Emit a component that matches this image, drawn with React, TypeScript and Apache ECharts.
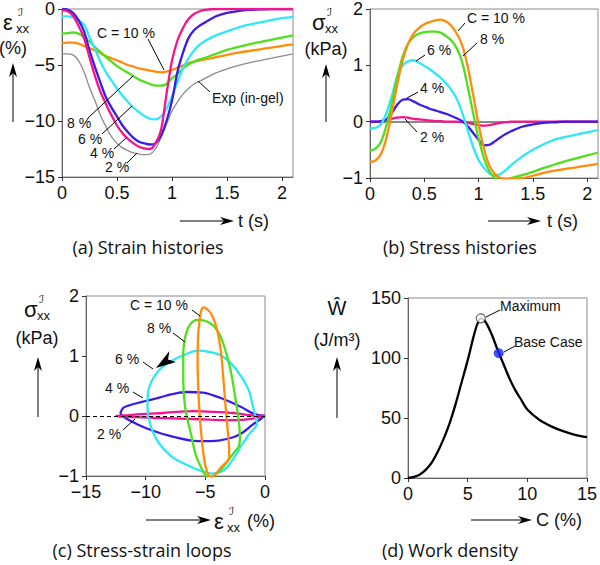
import React, { useEffect, useRef } from "react";
import * as echarts from "echarts";

// ---------- data ----------
const timeS = [0, 0.05, 0.1, 0.15, 0.2, 0.25, 0.3, 0.35, 0.4, 0.45, 0.5, 0.55, 0.6, 0.65, 0.7, 0.75, 0.8, 0.85, 0.9, 0.95, 1.0, 1.05, 1.1, 1.15, 1.2, 1.25, 1.3, 1.4, 1.5, 1.6, 1.7, 1.8, 1.9, 2.0, 2.1];

// strain histories (%)
const strain2 = [-0.1, -0.2, -0.6, -1.5, -2.6, -4.3, -6.0, -7.4, -8.5, -9.5, -10.4, -11.1, -11.6, -12.0, -12.3, -12.45, -12.5, -12.0, -10.8, -7.6, -4.6, -2.8, -1.7, -0.9, -0.45, -0.2, -0.08, 0, 0, 0, 0, 0, 0, 0, 0];
const strain4 = [0, -0.05, -0.35, -1.0, -2.0, -3.7, -5.2, -6.6, -7.9, -8.8, -9.6, -10.4, -11.0, -11.5, -11.85, -12.0, -12.1, -12.0, -11.3, -10.0, -8.2, -5.6, -3.9, -2.6, -1.9, -1.5, -1.2, -0.65, -0.35, -0.18, -0.08, -0.03, 0, 0, 0];
const strain6 = [-0.65, -0.65, -0.75, -1.0, -1.4, -2.5, -3.6, -4.7, -5.65, -6.4, -7.1, -7.75, -8.3, -8.8, -9.2, -9.55, -9.8, -9.85, -9.6, -8.9, -7.8, -6.5, -5.3, -4.4, -3.7, -3.2, -2.85, -2.35, -2.0, -1.65, -1.4, -1.2, -1.0, -0.82, -0.7];
const strain8 = [-2.2, -2.15, -2.1, -2.2, -2.5, -2.9, -3.4, -3.85, -4.3, -4.7, -5.1, -5.4, -5.7, -6.0, -6.3, -6.5, -6.7, -6.85, -6.85, -6.7, -6.2, -5.8, -5.3, -4.95, -4.7, -4.5, -4.35, -4.0, -3.65, -3.4, -3.15, -2.95, -2.75, -2.55, -2.35];
const strain10 = [-3.05, -3.0, -3.0, -3.1, -3.3, -3.5, -3.7, -3.95, -4.2, -4.4, -4.6, -4.8, -5.0, -5.15, -5.3, -5.4, -5.5, -5.6, -5.65, -5.6, -5.45, -5.25, -5.05, -4.85, -4.7, -4.6, -4.5, -4.3, -4.1, -3.9, -3.75, -3.6, -3.45, -3.3, -3.15];
const strainExp = [-4.0, -4.0, -4.1, -4.6, -5.6, -7.0, -8.2, -9.5, -10.5, -11.4, -12.0, -12.4, -12.65, -12.85, -12.95, -13.0, -12.95, -12.5, -11.5, -10.3, -9.1, -8.3, -7.6, -7.1, -6.7, -6.45, -6.2, -5.7, -5.35, -5.05, -4.8, -4.6, -4.4, -4.2, -4.0];

// stress histories (kPa)
const stress2 = [0, 0, 0, 0.02, 0.05, 0.07, 0.08, 0.07, 0.05, 0.04, 0.03, 0.02, 0.01, 0.01, 0, 0, 0, -0.01, -0.02, -0.04, -0.06, -0.07, -0.06, -0.04, -0.02, -0.01, 0, 0, 0, 0, 0, 0, 0, 0, 0];
const stress4 = [0, 0, 0.01, 0.04, 0.15, 0.3, 0.39, 0.4, 0.36, 0.31, 0.27, 0.23, 0.2, 0.17, 0.14, 0.1, 0.06, 0.01, -0.08, -0.2, -0.32, -0.42, -0.41, -0.35, -0.28, -0.22, -0.17, -0.09, -0.05, -0.02, -0.01, 0, 0, 0, 0];
const stress6 = [-0.12, -0.11, -0.05, 0.15, 0.45, 0.8, 1.0, 1.07, 1.09, 1.05, 0.99, 0.93, 0.86, 0.78, 0.68, 0.56, 0.4, 0.15, -0.15, -0.45, -0.68, -0.82, -0.92, -0.96, -0.93, -0.86, -0.77, -0.62, -0.5, -0.4, -0.32, -0.27, -0.23, -0.19, -0.15];
const stress8 = [-0.52, -0.48, -0.36, -0.08, 0.32, 0.78, 1.15, 1.38, 1.5, 1.56, 1.59, 1.6, 1.6, 1.58, 1.52, 1.44, 1.3, 1.05, 0.62, 0.15, -0.3, -0.65, -0.88, -1.0, -1.05, -1.04, -1.0, -0.95, -0.89, -0.82, -0.76, -0.7, -0.65, -0.6, -0.55];
const stress10 = [-0.72, -0.69, -0.58, -0.3, 0.15, 0.65, 1.08, 1.38, 1.56, 1.66, 1.73, 1.77, 1.8, 1.81, 1.78, 1.7, 1.56, 1.35, 0.98, 0.48, -0.05, -0.48, -0.78, -0.93, -1.0, -1.02, -1.02, -1.0, -0.96, -0.91, -0.87, -0.84, -0.81, -0.78, -0.75];

// work density
const concC = [0, 0.5, 1, 1.5, 2, 2.5, 3, 3.5, 4, 4.5, 5, 5.5, 5.8, 6.1, 6.5, 7, 7.5, 8, 8.5, 9, 9.5, 10, 11, 12, 13, 14, 15];
const workW = [0, 1, 3, 7, 13, 22, 33, 46, 62, 80, 98, 118, 128, 133, 130, 120, 107, 95, 83, 73, 65, 57, 48.5, 43, 39, 36, 34];
const maxPoint = [6.1, 133];
const basePoint = [7.6, 104];

const tTicks = [0, 0.5, 1, 1.5, 2];

// ---------- styling ----------
const SANS = "'Liberation Sans', Arial, Helvetica, sans-serif";
const CAP = "'Open Sans', 'DejaVu Sans', sans-serif";
const COL = { c2: "#f5148c", c4: "#3a1ce8", c6: "#2ee8f8", c8: "#4ee01e", c10: "#ff8c0a", exp: "#8c8c8c" };

const minus = (v: number) => String(v).replace("-", "\u2212");

function axisBase(extra: any) {
  return {
    type: "value",
    axisLine: { show: true, onZero: false, lineStyle: { color: "#666", width: 1 } },
    axisTick: { show: true, inside: false, length: 4, lineStyle: { color: "#333", width: 1 } },
    axisLabel: { fontSize: 18, color: "#111", fontFamily: SANS, formatter: minus },
    splitLine: { show: false },
    ...extra,
  };
}

const txt = (text: string, x: number, y: number, fontSize = 14, align = "left", family = SANS) => ({
  type: "text",
  silent: true,
  z: 100,
  style: { text, x, y, fontSize, fontFamily: family, fill: "#111", align, textAlign: align, verticalAlign: "middle", textVerticalAlign: "middle" },
});
const seg = (x1: number, y1: number, x2: number, y2: number, w = 1) => ({
  type: "line",
  silent: true,
  z: 100,
  shape: { x1, y1, x2, y2 },
  style: { stroke: "#000", lineWidth: w },
});
const poly = (points: number[][]) => ({ type: "polygon", silent: true, z: 100, shape: { points }, style: { fill: "#000" } });
const arrowRight = (x1: number, x2: number, y: number) => [
  seg(x1, y, x2 - 8, y),
  poly([[x2, y], [x2 - 14, y - 4], [x2 - 10, y], [x2 - 14, y + 4]]),
];
const arrowUp = (x: number, y1: number, y2: number) => [
  seg(x, y1, x, y2 + 8),
  poly([[x, y2], [x - 4, y2 + 14], [x, y2 + 10], [x + 4, y2 + 14]]),
];
// epsilon / sigma with superscript script-I and subscript xx
const symbolXX = (sym: string, x: number, y: number) => [
  txt(sym, x, y, 22, "left", SANS),
  txt("\u2110", x + 15, y - 10, 11, "left", "'DejaVu Sans', sans-serif"),
  txt("xx", x + 13, y + 6, 13, "left", SANS),
];

export default function App() {
  const ref = useRef<HTMLDivElement>(null);
  useEffect(() => {
    if (!ref.current) return;
    const chart = echarts.init(ref.current, undefined, { renderer: "svg" });
    const tPairs = (ys: number[]) => timeS.map((t, i) => [t, ys[i]]);
    const loop = (xs: number[], ys: number[]) => {
      const p = xs.map((x, i) => [x, ys[i]]);
      p.push(p[0]);
      return p;
    };
    const line = (data: any, color: string, xi: number, width = 2.3, extra: any = {}) => ({
      type: "line",
      xAxisIndex: xi,
      yAxisIndex: xi,
      data,
      showSymbol: false,
      symbol: "none",
      smooth: 0.3,
      lineStyle: { color, width },
      itemStyle: { color },
      ...extra,
    });

    const graphic: any[] = [
      // panel a annotations
      txt("C = 10 %", 97, 33), seg(148, 39, 164, 70),
      txt("Exp (in-gel)", 212, 98), seg(198, 81, 210, 92),
      txt("8 %", 67, 123), seg(88, 118, 133, 76),
      txt("6 %", 78, 139), seg(102, 134, 132, 106),
      txt("4 %", 90, 153), seg(114, 149, 126, 138),
      txt("2 %", 105, 167), seg(127, 163, 137, 153),
      // panel b annotations
      txt("C = 10 %", 467, 18), seg(465, 23, 458, 31),
      txt("8 %", 480, 39), seg(477, 43, 463, 56),
      txt("6 %", 427, 50), seg(425, 55, 416, 61),
      txt("4 %", 420, 88), seg(418, 92, 407, 98),
      txt("2 %", 420, 137), seg(417, 132, 405, 119),
      // panel c annotations
      txt("C = 10 %", 130, 305), seg(192, 310, 200, 316),
      txt("8 %", 147, 328), seg(173, 333, 185, 342),
      txt("6 %", 115, 359), seg(143, 362, 153, 369),
      txt("4 %", 105, 388), seg(133, 392, 143, 398),
      txt("2 %", 97, 434), seg(123, 430, 135, 419),
      poly([[156, 368], [176, 362], [168, 359.5], [169.5, 351]]),
      // panel d annotations
      txt("Maximum", 500, 306), seg(486, 317, 500, 310),
      txt("Base Case", 514, 342), seg(504, 352, 515, 346),
      // axis titles a
      ...symbolXX("\u03b5", 3, 22),
      txt("(%)", 13, 48, 18, "center"),
      ...arrowUp(13, 122, 63),
      ...arrowRight(180, 234, 221),
      txt("t (s)", 238, 221, 18),
      // axis titles b
      ...symbolXX("\u03c3", 312, 22),
      txt("(kPa)", 326, 49, 18, "center"),
      ...arrowUp(326, 122, 64),
      ...arrowRight(488, 541, 221),
      txt("t (s)", 547, 221, 18),
      // axis titles c
      ...symbolXX("\u03c3", 24, 309),
      txt("(kPa)", 37, 338, 18, "center"),
      ...arrowUp(38, 417, 357),
      ...arrowRight(146, 211, 520),
      ...symbolXX("\u03b5", 214, 521),
      txt("(%)", 247, 521, 18),
      // axis titles d
      txt("\u0174", 337, 308, 20, "center"),
      txt("(J/m\u00b3)", 337, 340, 18, "center"),
      ...arrowUp(337, 418, 357),
      ...arrowRight(471, 532, 520),
      txt("C (%)", 536, 520, 18),
      // captions
      txt("(a) Strain histories", 148, 247, 18, "center", CAP),
      txt("(b) Stress histories", 460, 247, 18, "center", CAP),
      txt("(c) Stress-strain loops", 142, 550, 18, "center", CAP),
      txt("(d) Work density", 450, 550, 18, "center", CAP),
    ];

    chart.setOption({
      animation: false,
      backgroundColor: "#fff",
      grid: [
        { left: 62, top: 8, width: 231, height: 169, show: true, borderColor: "#8a8a8a", borderWidth: 1, backgroundColor: "transparent" },
        { left: 370, top: 8, width: 228, height: 170, show: true, borderColor: "#8a8a8a", borderWidth: 1, backgroundColor: "transparent" },
        { left: 86, top: 296, width: 179, height: 180, show: true, borderColor: "#8a8a8a", borderWidth: 1, backgroundColor: "transparent" },
        { left: 408, top: 298, width: 180, height: 180, show: true, borderColor: "#8a8a8a", borderWidth: 1, backgroundColor: "transparent" },
      ],
      xAxis: [
        axisBase({ gridIndex: 0, min: 0, max: 2.1, interval: 0.5,
          axisTick: { show: true, inside: false, length: 4, lineStyle: { color: "#333" }, customValues: tTicks },
          axisLabel: { fontSize: 18, color: "#111", fontFamily: SANS, margin: 7, customValues: tTicks, formatter: minus } }),
        axisBase({ gridIndex: 1, min: 0, max: 2.1, interval: 0.5,
          axisTick: { show: true, inside: false, length: 4, lineStyle: { color: "#333" }, customValues: tTicks },
          axisLabel: { fontSize: 18, color: "#111", fontFamily: SANS, margin: 7, customValues: tTicks, formatter: minus } }),
        axisBase({ gridIndex: 2, min: -15, max: 0, interval: 5,
          axisLabel: { fontSize: 18, color: "#111", fontFamily: SANS, margin: 7, formatter: minus } }),
        axisBase({ gridIndex: 3, min: 0, max: 15, interval: 5,
          axisLabel: { fontSize: 18, color: "#111", fontFamily: SANS, margin: 7, formatter: minus } }),
      ],
      yAxis: [
        axisBase({ gridIndex: 0, min: -15, max: 0, interval: 5, axisLabel: { fontSize: 18, color: "#111", fontFamily: SANS, margin: 7, formatter: minus } }),
        axisBase({ gridIndex: 1, min: -1, max: 2, interval: 1, axisLabel: { fontSize: 18, color: "#111", fontFamily: SANS, margin: 7, formatter: minus } }),
        axisBase({ gridIndex: 2, min: -1, max: 2, interval: 1, axisLabel: { fontSize: 18, color: "#111", fontFamily: SANS, margin: 7, formatter: minus } }),
        axisBase({ gridIndex: 3, min: 0, max: 150, interval: 50, axisLabel: { fontSize: 18, color: "#111", fontFamily: SANS, margin: 7, formatter: minus } }),
      ],
      series: [
        // (a)
        line(tPairs(strainExp), COL.exp, 0, 1.3),
        line(tPairs(strain10), COL.c10, 0),
        line(tPairs(strain8), COL.c8, 0),
        line(tPairs(strain6), COL.c6, 0),
        line(tPairs(strain4), COL.c4, 0),
        line(tPairs(strain2), COL.c2, 0),
        // (b)
        line(tPairs(stress2), COL.c2, 1, 2.3, {
          markLine: { silent: true, symbol: "none", label: { show: false }, lineStyle: { color: "#8a8a8a", width: 2, type: "solid" }, data: [{ yAxis: 0 }], z: 1 },
        }),
        line(tPairs(stress4), COL.c4, 1),
        line(tPairs(stress6), COL.c6, 1),
        line(tPairs(stress8), COL.c8, 1),
        line(tPairs(stress10), COL.c10, 1),
        // (c)
        line(loop(strain4, stress4), COL.c4, 2, 2.3, {
          markLine: { silent: true, symbol: "none", label: { show: false }, lineStyle: { color: "#000", width: 1, type: [4, 3] }, data: [{ yAxis: 0 }] },
        }),
        line(loop(strain2, stress2), COL.c2, 2),
        line(loop(strain6, stress6), COL.c6, 2),
        line(loop(strain8, stress8), COL.c8, 2),
        line(loop(strain10, stress10), COL.c10, 2),
        // (d)
        line(concC.map((c, i) => [c, workW[i]]), "#000", 3, 2.3),
        {
          type: "scatter", xAxisIndex: 3, yAxisIndex: 3, symbolSize: 9, z: 5,
          data: [
            { value: maxPoint, itemStyle: { color: "#fff", borderColor: "#000", borderWidth: 1 } },
            { value: basePoint, itemStyle: { color: "#1428ff", borderColor: "#1428ff", borderWidth: 1 } },
          ],
        },
      ],
      graphic,
    });
    return () => chart.dispose();
  }, []);
  return <div ref={ref} style={{ position: "absolute", left: 0, top: 0, width: 600, height: 565 }} />;
}
